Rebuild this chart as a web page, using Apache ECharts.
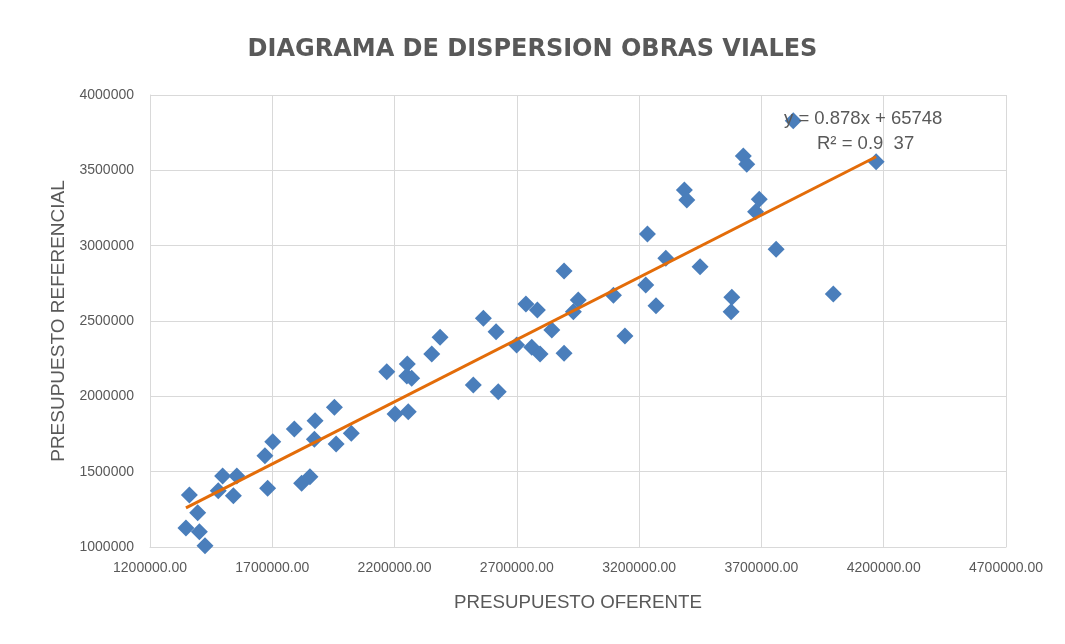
<!DOCTYPE html>
<html>
<head>
<meta charset="utf-8">
<script src="https://cdn.jsdelivr.net/npm/echarts@6/dist/echarts.min.js"></script>
<style>
  html, body { margin: 0; padding: 0; background: #fff; }
  #main { width: 1065px; height: 644px; }
</style>
</head>
<body>
<div id="main"></div>
<script>
// presupuesto oferente (x) y referencial (y)
var oferente = [1347000, 1361000, 1395000, 1402000, 1425000, 1479000, 1497000, 1555000, 1541000, 1670000,
    1681000, 1702000, 1790000, 1820000, 1854000, 1875000, 1872000, 1954000, 1961000, 2023000,
    2168000, 2202000, 2252000, 2250000, 2270000, 2256000, 2352000, 2386000, 2522000, 2563000,
    2615000, 2624000, 2699000, 2737000, 2761000, 2784000, 2795000, 2843000, 2893000, 2893000,
    2931000, 2951000, 3095000, 3142000, 3227000, 3234000, 3269000, 3309000, 3385000, 3395000,
    3449000, 3579000, 3576000, 3626000, 3640000, 3676000, 3691000, 3760000, 3830000, 3994000,
    4169000];
var referencial = [1126000, 1345000, 1228000, 1102000, 1009000, 1374000, 1471000, 1471000, 1340000, 1606000,
    1390000, 1699000, 1783000, 1423000, 1467000, 1838000, 1715000, 1927000, 1684000, 1755000,
    2163000, 1883000, 2215000, 2135000, 2120000, 1898000, 2281000, 2392000, 2075000, 2518000,
    2429000, 2031000, 2341000, 2613000, 2325000, 2573000, 2281000, 2440000, 2832000, 2286000,
    2562000, 2639000, 2671000, 2400000, 2739000, 3077000, 2601000, 2916000, 3369000, 3303000,
    2860000, 2657000, 2562000, 3595000, 3540000, 3225000, 3308000, 2976000, 3829000, 2679000,
    3557000];

var xTicks = [1200000, 4700000, 500000];
var yTicks = [1000000, 4000000, 500000];
var ecuacion = 'y = 0.878x + 65748';
var r2 = 'R² = 0.9  37';

var puntos = [];
for (var i = 0; i < oferente.length; i++) {
    puntos.push([oferente[i], referencial[i]]);
}

// linea de tendencia (minimos cuadrados) entre el menor y el mayor x
var n = oferente.length, sx = 0, sy = 0, sxx = 0, sxy = 0;
for (i = 0; i < n; i++) {
    sx += oferente[i]; sy += referencial[i];
    sxx += oferente[i] * oferente[i]; sxy += oferente[i] * referencial[i];
}
var m = (n * sxy - sx * sy) / (n * sxx - sx * sx);
var b = (sy - m * sx) / n;
var xmin = Math.min.apply(null, oferente);
var xmax = Math.max.apply(null, oferente);
var tendencia = [[xmin, m * xmin + b], [xmax, m * xmax + b]];

var gris = '#595959';
var myChart = echarts.init(document.getElementById('main'));
var option = {
    backgroundColor: '#ffffff',
    animation: false,
    title: {
        text: 'DIAGRAMA DE DISPERSION OBRAS VIALES',
        left: 'center',
        top: 33,
        textStyle: {
            fontFamily: 'DejaVu Sans',
            fontWeight: 'bold',
            fontSize: 24,
            color: gris
        }
    },
    grid: {
        left: 150,
        right: 59,
        top: 95,
        bottom: 97
    },
    xAxis: {
        type: 'value',
        min: xTicks[0],
        max: xTicks[1],
        interval: xTicks[2],
        name: 'PRESUPUESTO OFERENTE',
        nameLocation: 'middle',
        nameGap: 46,
        nameTextStyle: { fontFamily: 'Liberation Sans', fontSize: 18.7, color: gris },
        axisLine: { show: true, lineStyle: { color: '#d9d9d9', width: 1 } },
        axisTick: { show: false },
        axisLabel: {
            color: gris,
            fontFamily: 'Liberation Sans',
            fontSize: 14,
            margin: 14,
            formatter: function (v) { return v.toFixed(2); }
        },
        splitLine: { show: true, lineStyle: { color: '#d9d9d9', width: 1 } }
    },
    yAxis: {
        type: 'value',
        min: yTicks[0],
        max: yTicks[1],
        interval: yTicks[2],
        name: 'PRESUPUESTO REFERENCIAL',
        nameLocation: 'middle',
        nameGap: 80,
        nameTextStyle: { fontFamily: 'Liberation Sans', fontSize: 19, color: gris },
        axisLine: { show: true, lineStyle: { color: '#d9d9d9', width: 1 } },
        axisTick: { show: false },
        axisLabel: {
            color: gris,
            fontFamily: 'Liberation Sans',
            fontSize: 14,
            margin: 16,
            formatter: function (v) { return String(v); }
        },
        splitLine: { show: true, lineStyle: { color: '#d9d9d9', width: 1 } }
    },
    series: [
        {
            name: 'Presupuesto',
            type: 'scatter',
            symbol: 'diamond',
            symbolSize: 17,
            itemStyle: { color: '#4a7ebb', opacity: 1 },
            data: puntos,
            z: 2
        },
        {
            name: 'Tendencia',
            type: 'line',
            symbol: 'none',
            lineStyle: { color: '#e36c09', width: 3 },
            data: tendencia,
            z: 3
        }
    ],
    graphic: [
        {
            type: 'text',
            left: 784,
            top: 109,
            z: 10,
            style: { text: ecuacion, fontFamily: 'Liberation Sans', fontSize: 18.5, fill: gris }
        },
        {
            type: 'text',
            left: 817,
            top: 134,
            z: 10,
            style: { text: r2, fontFamily: 'Liberation Sans', fontSize: 18.5, fill: gris }
        }
    ]
};
myChart.setOption(option);
</script>
</body>
</html>
